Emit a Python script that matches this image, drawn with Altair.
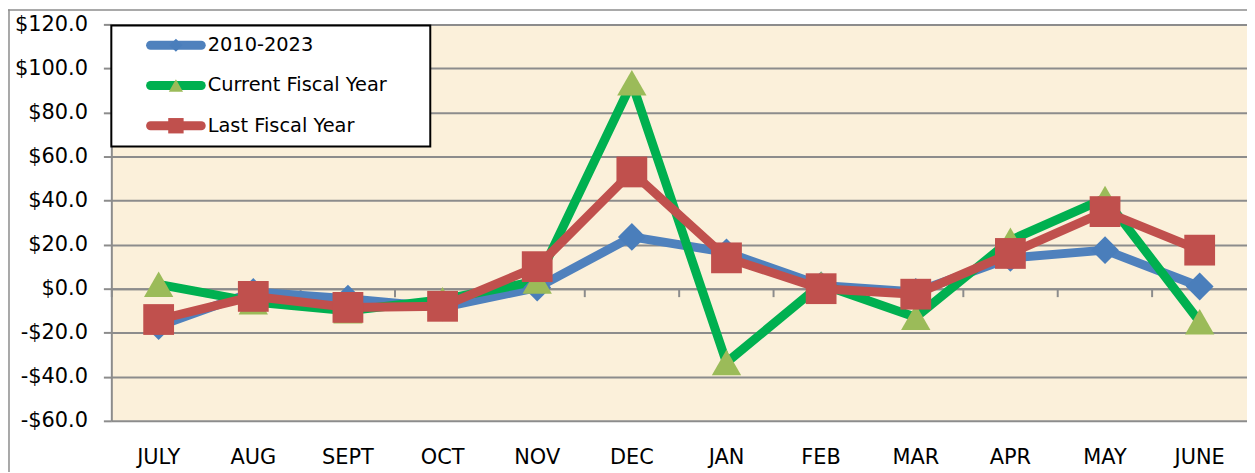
import altair as alt
import pandas as pd

# ---- data ----
months = ["JULY", "AUG", "SEPT", "OCT", "NOV", "DEC", "JAN", "FEB", "MAR", "APR", "MAY", "JUNE"]
series_names = ["2010-2023", "Current Fiscal Year", "Last Fiscal Year"]
avg_2010_2023 = [-17.0, -1.5, -4.5, -8.5, 0.5, 23.5, 16.5, 1.5, -1.5, 14.0, 17.5, 1.0]
current_fy = [2.0, -6.0, -10.0, -5.0, 3.5, 93.5, -33.5, 2.0, -13.0, 22.0, 41.0, -15.0]
last_fy = [-14.0, -3.5, -8.5, -8.0, 10.0, 53.0, 14.0, 0.0, -2.5, 16.0, 35.0, 17.5]
y_ticks = [-60, -40, -20, 0, 20, 40, 60, 80, 100, 120]
title_text = "Chart 6 \u2013 Balance Change Month by Month (Average)"

# ---- styles ----
line_colors = ["#4F81BD", "#00B050", "#C0504D"]
marker_colors = ["#4A7EBB", "#9BBB59", "#C0504D"]
marker_shapes = ["diamond", "triangle-up", "square"]
marker_sizes = [784, 960, 676]
marker_strokes = [0, 0, 6]
legend_marker_sizes = [170, 240, 289]
legend_marker_strokes = [0, 0, 4]
GRID = "#8C8C8C"
FONT = "DejaVu Sans"

rows = []
for name, vals in zip(series_names, [avg_2010_2023, current_fy, last_fy]):
    for m, v in zip(months, vals):
        rows.append({"month": m, "value": v, "series": name})
df = pd.DataFrame(rows)
legend_df = pd.DataFrame({"series": series_names})
one = pd.DataFrame({"k": [0]})

W, H = 1143, 399

x_scale = alt.Scale(type="band", paddingInner=0, paddingOuter=0)
y_scale = alt.Scale(domain=[-60, 120], nice=False, zero=False)
color_scale = alt.Scale(domain=series_names, range=line_colors)
fill_scale = alt.Scale(domain=series_names, range=marker_colors)
stroke_scale = alt.Scale(domain=series_names, range=marker_colors)
shape_scale = alt.Scale(domain=series_names, range=marker_shapes)

y_axis = alt.Axis(
    values=y_ticks, title=None, grid=True, gridColor=GRID, gridWidth=2,
    domain=True, domainColor=GRID, domainWidth=2,
    ticks=True, tickColor=GRID, tickWidth=2, tickSize=8,
    labelFont=FONT, labelFontSize=21, labelColor="#000000", labelPadding=16,
    labelExpr="datum.value < 0 ? '-$' + format(-datum.value, '.1f') : '$' + format(datum.value, '.1f')",
)

# axis drawn at the zero line with ticks between categories
x_axis_zero = alt.Axis(
    orient="bottom", title=None, labels=False, grid=False,
    domain=True, domainColor=GRID, domainWidth=2,
    ticks=True, tickColor=GRID, tickWidth=2, tickSize=8, bandPosition=0,
    offset=-133,
)
# category labels at the bottom
x_axis_labels = alt.Axis(
    orient="bottom", title=None, labels=True, grid=False, domain=False,
    ticks=False, tickSize=0,
    labelFont=FONT, labelFontSize=21, labelColor="#000000", labelPadding=26,
    labelAngle=0,
)

box = alt.Chart(one).mark_rect(fill="#FFFFFF", stroke="#000000", strokeWidth=2).encode(
    x=alt.value(0), x2=alt.value(321), y=alt.value(1), y2=alt.value(123)
)

lines = alt.Chart(df).mark_line(strokeWidth=9, strokeJoin="round", strokeCap="round").encode(
    x=alt.X("month:N", sort=months, scale=x_scale, axis=x_axis_zero),
    y=alt.Y("value:Q", scale=y_scale, axis=y_axis),
    color=alt.Color("series:N", scale=color_scale, legend=None),
    order=alt.Order("series:N"),
)

markers = alt.Chart(df).mark_point(filled=True, opacity=1, strokeJoin="round").encode(
    x=alt.X("month:N", sort=months, scale=x_scale, axis=x_axis_labels),
    y=alt.Y("value:Q", scale=y_scale, axis=None),
    fill=alt.Fill("series:N", scale=fill_scale, legend=None),
    stroke=alt.Stroke("series:N", scale=stroke_scale, legend=None),
    strokeWidth=alt.StrokeWidth("series:N", scale=alt.Scale(domain=series_names, range=marker_strokes), legend=None),
    shape=alt.Shape("series:N", scale=shape_scale, legend=None),
    size=alt.Size("series:N", scale=alt.Scale(domain=series_names, range=marker_sizes), legend=None),
)

# legend (drawn from the series names)
leg_y = alt.Y("series:N", scale=alt.Scale(type="point", domain=series_names, range=[21, 102], padding=0), axis=None)
leg_lines = alt.Chart(legend_df).mark_rule(strokeWidth=9, strokeCap="round").encode(
    x=alt.value(39.5), x2=alt.value(90.5), y=leg_y,
    color=alt.Color("series:N", scale=color_scale, legend=None),
)
leg_points = alt.Chart(legend_df).mark_point(filled=True, opacity=1, strokeJoin="round").encode(
    x=alt.value(65), y=leg_y,
    fill=alt.Fill("series:N", scale=fill_scale, legend=None),
    stroke=alt.Stroke("series:N", scale=stroke_scale, legend=None),
    strokeWidth=alt.StrokeWidth("series:N", scale=alt.Scale(domain=series_names, range=legend_marker_strokes), legend=None),
    shape=alt.Shape("series:N", scale=shape_scale, legend=None),
    size=alt.Size("series:N", scale=alt.Scale(domain=series_names, range=legend_marker_sizes), legend=None),
)
leg_text = alt.Chart(legend_df).mark_text(
    align="left", baseline="middle", font=FONT, fontSize=19.5, color="#000000"
).encode(x=alt.value(97), y=leg_y, text="series:N")

border_left = alt.Chart(one).mark_rule(color=GRID, strokeWidth=1.5).encode(
    x=alt.value(-103), y=alt.value(-15), y2=alt.value(H + 60)
)
border_top = alt.Chart(one).mark_rule(color=GRID, strokeWidth=1.5).encode(
    x=alt.value(-104), x2=alt.value(W), y=alt.value(-14.5)
)

chart = alt.layer(
    box, lines, markers, leg_lines, leg_points, leg_text, border_left, border_top
).resolve_axis(
    x="independent"
).resolve_scale(
    y="independent", size="independent", strokeWidth="independent"
).properties(
    width=W, height=H,
    title=alt.TitleParams(
        text=title_text, font="Liberation Sans", fontSize=26, fontWeight="bold",
        color="#000000", frame="group", anchor="middle", baseline="alphabetic",
        offset=12, dx=-51,
    ),
    autosize=alt.AutoSizeParams(type="none"),
    padding={"left": 104, "top": 15, "right": 0, "bottom": 50},
).configure(background="#FFFFFF").configure_view(fill="#FBF0DA", stroke=None)

chart.save("out.html", embed_options={"renderer": "svg", "actions": False})
